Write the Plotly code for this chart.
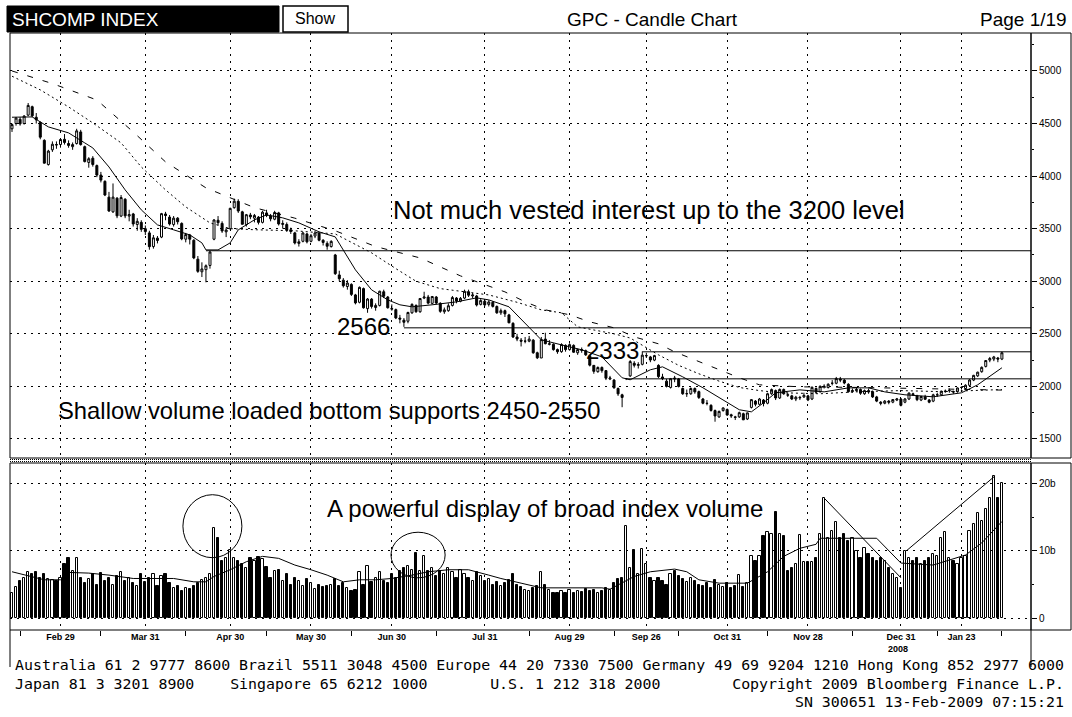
import plotly.graph_objects as go

# ---------------- data ----------------
# trading-day index 0 = 13-Feb-2008 ... 245 = 13-Feb-2009
date_tick_idx = [12, 33, 54, 74, 94, 117, 138, 157, 177, 197, 220, 235]
date_labels = ["Feb 29", "Mar 31", "Apr 30", "May 30", "Jun 30", "Jul 31",
               "Aug 29", "Sep 26", "Oct 31", "Nov 28", "Dec 31", "Jan 23"]
minor_tick_idx = [2, 22, 43, 63, 84, 105, 128, 149, 165, 187, 208, 229, 245]

opens = [
    4450, 4500, 4540, 4500, 4580, 4660, 4560, 4510, 4340, 4110, 4250, 4300, 4300,
    4350, 4310, 4280, 4310, 4420, 4280, 4130, 4170, 4100, 4010, 3950, 3800, 3660, 3790, 3620, 3780, 3620, 3640, 3540, 3560, 3500,
    3460, 3330, 3410, 3420, 3640, 3610, 3540, 3600, 3550, 3400, 3440, 3390, 3210, 3090, 3110, 3150, 3400, 3580, 3550, 3470, 3500,
    3700, 3760, 3660, 3540, 3630, 3600, 3610, 3560, 3650, 3620, 3590, 3650, 3540, 3540, 3490, 3460, 3360, 3380, 3450, 3380,
    3430, 3460, 3390, 3360, 3330, 3250, 3060, 3010, 2950, 2970, 2870, 2800, 2930, 2740, 2830, 2750, 2770, 2900, 2850, 2740,
    2730, 2650, 2630, 2620, 2700, 2770, 2710, 2840, 2850, 2790, 2850, 2790, 2710, 2720, 2770, 2840, 2810, 2840, 2900, 2860, 2860, 2780, 2810,
    2780, 2800, 2760, 2700, 2720, 2680, 2600, 2470, 2440, 2430, 2430, 2440, 2320, 2270, 2450, 2400, 2400, 2350, 2330, 2390, 2350,
    2390, 2320, 2350, 2340, 2290, 2200, 2140, 2180, 2150, 2070, 2060, 1980, 1920, 2075, 2100, 2220, 2200, 2210, 2290, 2280, 2250,
    2200, 2090, 2050, 1990, 2080, 2070, 1980, 1930, 1930, 1980, 1950, 1880, 1840, 1820, 1770, 1710, 1770, 1780,
    1730, 1710, 1710, 1740, 1690, 1800, 1860, 1830, 1870, 1840, 1930, 1960, 1890, 1970, 1920, 1910, 1880, 1890, 1900, 1910,
    1880, 1980, 1950, 2000, 1990, 2030, 2030, 2070, 2060, 2020, 1950, 1960, 1970, 1930, 1960, 1950, 1900, 1850, 1840, 1860, 1850, 1870, 1880,
    1850, 1880, 1930, 1910, 1870, 1900, 1870, 1860, 1920, 1920, 1950, 1960, 1950, 1950, 1990,
    1980, 2010, 2060, 2100, 2140, 2190, 2250, 2260, 2270, 2260,
]
highs = [
    4500, 4560, 4560, 4580, 4695, 4670, 4600, 4520, 4350, 4250, 4330, 4330, 4360,
    4400, 4340, 4320, 4450, 4440, 4290, 4180, 4190, 4110, 4040, 3960, 3850, 3930, 3800, 3820, 3790, 3680, 3650, 3600, 3580, 3530,
    3480, 3440, 3430, 3650, 3660, 3630, 3620, 3610, 3560, 3460, 3450, 3400, 3240, 3180, 3160, 3290, 3590, 3620, 3570, 3510, 3700,
    3786, 3780, 3670, 3640, 3650, 3640, 3620, 3670, 3680, 3640, 3670, 3660, 3580, 3560, 3510, 3470, 3400, 3470, 3460, 3450,
    3480, 3470, 3400, 3380, 3390, 3260, 3100, 3030, 3010, 2980, 2880, 2950, 2940, 2840, 2840, 2790, 2910, 2920, 2860, 2780,
    2740, 2680, 2650, 2710, 2790, 2780, 2840, 2900, 2870, 2860, 2860, 2800, 2750, 2790, 2860, 2850, 2850, 2920, 2920, 2890, 2870, 2830, 2830,
    2820, 2810, 2770, 2740, 2730, 2690, 2610, 2500, 2460, 2470, 2480, 2450, 2330, 2470, 2510, 2440, 2410, 2360, 2410, 2400, 2410,
    2400, 2360, 2370, 2350, 2300, 2200, 2190, 2190, 2150, 2100, 2070, 1990, 1930, 2080, 2250, 2240, 2230, 2333, 2320, 2290, 2300,
    2210, 2120, 2070, 2080, 2100, 2080, 1990, 1970, 1990, 1990, 1960, 1890, 1870, 1830, 1780, 1770, 1800, 1790,
    1740, 1720, 1760, 1750, 1750, 1880, 1870, 1890, 1880, 1940, 1980, 1970, 1980, 1980, 1940, 1920, 1910, 1910, 1940, 1920,
    2000, 1990, 2010, 2020, 2030, 2060, 2090, 2090, 2070, 2030, 1980, 1990, 1980, 1970, 1980, 1960, 1910, 1860, 1870, 1870, 1880, 1890, 1890,
    1890, 1940, 1940, 1920, 1910, 1920, 1880, 1930, 1940, 1960, 1970, 1980, 1960, 1990, 2000,
    2020, 2070, 2110, 2140, 2190, 2250, 2280, 2290, 2280, 2330,
]
lows = [
    4420, 4480, 4480, 4490, 4570, 4560, 4500, 4350, 4120, 4100, 4230, 4260, 4270,
    4300, 4270, 4250, 4300, 4290, 4130, 4080, 4090, 3990, 3940, 3810, 3660, 3650, 3600, 3610, 3600, 3570, 3520, 3480, 3470, 3440,
    3300, 3310, 3360, 3410, 3580, 3530, 3520, 3540, 3390, 3370, 3350, 3210, 3080, 3040, 2990, 3120, 3390, 3530, 3460, 3420, 3490,
    3690, 3650, 3540, 3520, 3590, 3560, 3540, 3550, 3610, 3570, 3580, 3530, 3500, 3470, 3450, 3350, 3330, 3370, 3360, 3370,
    3410, 3380, 3340, 3300, 3320, 3060, 3000, 2940, 2920, 2860, 2780, 2790, 2740, 2700, 2740, 2720, 2760, 2840, 2740, 2720,
    2640, 2600, 2566, 2600, 2690, 2700, 2700, 2830, 2780, 2780, 2780, 2700, 2690, 2710, 2760, 2790, 2800, 2830, 2850, 2840, 2760, 2770, 2760,
    2760, 2750, 2690, 2680, 2660, 2600, 2460, 2430, 2380, 2410, 2420, 2310, 2260, 2270, 2400, 2390, 2340, 2310, 2320, 2330, 2340,
    2320, 2300, 2320, 2290, 2190, 2120, 2130, 2130, 2060, 2060, 1980, 1910, 1802, 2060, 2090, 2180, 2170, 2200, 2270, 2230, 2240,
    2080, 2060, 1990, 1980, 2040, 1990, 1920, 1900, 1920, 1930, 1880, 1830, 1820, 1760, 1664, 1700, 1760, 1720,
    1700, 1680, 1700, 1680, 1680, 1790, 1810, 1820, 1810, 1830, 1920, 1870, 1880, 1920, 1900, 1870, 1860, 1870, 1890, 1860,
    1870, 1930, 1940, 1980, 1980, 2010, 2020, 2040, 2020, 1940, 1940, 1950, 1920, 1920, 1930, 1890, 1850, 1820, 1830, 1830, 1840, 1860, 1810,
    1840, 1870, 1910, 1860, 1860, 1870, 1840, 1850, 1900, 1910, 1940, 1940, 1930, 1940, 1970,
    1970, 2000, 2050, 2090, 2130, 2180, 2230, 2240, 2230, 2250,
]
closes = [
    4490, 4552, 4497, 4571, 4672, 4573, 4535, 4370, 4123, 4238, 4303, 4297, 4348,
    4320, 4292, 4300, 4430, 4300, 4138, 4165, 4110, 4010, 3962, 3820, 3668, 3800, 3622, 3796, 3622, 3634, 3545, 3570, 3494, 3472,
    3329, 3413, 3388, 3643, 3625, 3545, 3600, 3566, 3403, 3444, 3400, 3222, 3094, 3117, 3147, 3278, 3583, 3557, 3478, 3487, 3693,
    3761, 3668, 3542, 3633, 3613, 3626, 3560, 3657, 3626, 3594, 3654, 3545, 3550, 3485, 3473, 3364, 3375, 3459, 3375, 3433,
    3459, 3390, 3369, 3333, 3379, 3072, 3024, 2957, 2983, 2875, 2794, 2942, 2748, 2831, 2760, 2770, 2905, 2858, 2748, 2736,
    2651, 2640, 2610, 2703, 2780, 2710, 2836, 2850, 2792, 2855, 2793, 2714, 2728, 2767, 2845, 2813, 2837, 2904, 2867, 2869, 2774, 2816, 2775,
    2803, 2761, 2700, 2720, 2690, 2605, 2470, 2450, 2430, 2430, 2450, 2320, 2272, 2445, 2406, 2405, 2350, 2330, 2398, 2350, 2397,
    2325, 2350, 2343, 2300, 2202, 2143, 2180, 2150, 2078, 2080, 1986, 1929, 1895, 2075, 2236, 2201, 2207, 2297, 2293, 2251, 2293,
    2093, 2074, 2000, 2073, 2072, 2000, 1930, 1931, 1980, 1948, 1895, 1840, 1838, 1771, 1719, 1762, 1795, 1728,
    1720, 1706, 1750, 1682, 1748, 1874, 1830, 1880, 1838, 1930, 1970, 1890, 1971, 1930, 1917, 1880, 1897, 1895, 1915, 1871,
    1991, 1945, 2000, 2000, 2020, 2030, 2074, 2060, 2032, 1950, 1960, 1970, 1935, 1960, 1947, 1900, 1860, 1840, 1860, 1850, 1875, 1880, 1820,
    1880, 1937, 1920, 1874, 1904, 1878, 1850, 1920, 1920, 1954, 1955, 1960, 1947, 1985, 1990,
    2011, 2061, 2105, 2135, 2181, 2246, 2265, 2280, 2260, 2320,
]
volume_b = [
    3.8, 4.6, 5.5, 6.0, 6.8, 6.5, 6.9, 6.0, 6.5, 5.8, 5.6, 5.5, 5.9,
    8.0, 8.9, 7.0, 8.9, 6.0, 5.2, 5.8, 6.5, 5.0, 6.7, 5.5, 6.0, 5.0, 6.3, 6.8, 5.5, 6.0, 5.2, 4.8, 6.5, 5.3,
    6.0, 6.5, 4.8, 6.3, 6.5, 5.2, 4.5, 4.8, 4.0, 4.5, 4.3, 4.8, 5.2, 5.6, 6.0, 6.5, 13.4, 11.9, 8.5, 9.0, 10.1,
    9.0, 8.5, 8.0, 7.5, 9.0, 8.5, 9.1, 8.8, 7.6, 6.0, 7.0, 7.2, 5.5, 6.5, 5.0, 6.0, 5.5, 4.8, 5.8, 5.2,
    4.4, 5.0, 4.6, 4.8, 5.0, 5.8, 4.8, 5.2, 4.5, 4.0, 4.2, 6.9, 5.0, 7.8, 5.4, 6.0, 6.9, 5.5, 5.2, 6.5,
    6.0, 7.0, 7.5, 7.8, 7.2, 9.7, 7.0, 9.3, 7.0, 7.5, 6.2, 7.0, 6.5, 7.5, 6.8, 6.0, 7.2, 6.5, 6.0, 5.5, 6.9, 6.2, 5.5,
    5.8, 5.0, 5.4, 4.8, 5.2, 5.6, 6.5, 5.0, 4.6, 4.2, 4.0, 4.5, 4.8, 6.9, 5.0, 4.2, 3.8, 3.7, 4.0, 3.8, 4.2,
    3.7, 4.0, 3.9, 4.3, 4.0, 4.2, 3.8, 4.0, 4.5, 4.2, 5.2, 5.8, 6.0, 13.7, 7.5, 10.1, 6.5, 10.3, 8.0, 6.0, 5.5,
    6.0, 5.5, 5.0, 6.5, 7.0, 6.2, 5.8, 5.4, 6.0, 5.5, 5.0, 4.8, 5.2, 4.5, 5.6, 5.0, 4.6, 5.2,
    4.5, 4.8, 6.4, 4.6, 5.2, 9.3, 8.5, 9.3, 12.2, 12.8, 12.5, 15.8, 12.5, 12.2, 7.0, 7.5, 8.0, 12.4, 8.3, 8.3,
    8.3, 9.0, 12.5, 17.9, 12.0, 13.0, 14.3, 12.0, 12.5, 11.5, 12.0, 10.0, 9.0, 10.5, 9.5, 9.0, 8.5, 9.0, 8.5, 7.5, 6.5, 6.0, 4.5,
    10.0, 9.0, 8.5, 9.0, 8.0, 8.5, 9.0, 9.5, 9.3, 12.0, 12.8, 9.0, 8.5, 8.0, 9.0,
    9.3, 13.0, 14.0, 15.6, 14.5, 16.2, 17.9, 21.2, 17.9, 20.1,
]

# moving averages read at sparse points (index, value)
ma_short_idx = [0, 5, 9, 14, 18, 20, 24, 28, 32, 36, 40, 44, 47, 48, 51, 54, 56, 60, 63, 67, 71, 76, 80, 83, 85, 89,
                93, 96, 99, 104, 110, 115, 118, 123, 128, 131, 136, 141, 146, 151, 153, 158, 161, 166, 171, 176,
                180, 183, 186, 189, 195, 201, 207, 212, 216, 221, 228, 235, 239, 245]
ma_short_val = [4560, 4563, 4468, 4411, 4316, 4268, 4087, 3869, 3679, 3536, 3489, 3441, 3365, 3298, 3298, 3365, 3489,
                3584, 3631, 3603, 3555, 3470, 3422, 3232, 3108, 2918, 2823, 2776, 2757, 2776, 2804, 2842, 2823, 2757,
                2566, 2443, 2395, 2348, 2281, 2082, 2063, 2158, 2186, 2091, 1987, 1873, 1778, 1758, 1844, 1939, 1967,
                1948, 1986, 1986, 1948, 1920, 1901, 1939, 2015, 2177]
ma_mid_idx = [0, 7, 14, 20, 27, 32, 38, 43, 49, 54, 60, 70, 80, 85, 89, 95, 100, 106, 112, 118, 125, 131, 136,
              140, 149, 153, 160, 165, 170, 175, 180, 185, 190, 200, 210, 220, 230, 240, 245]
ma_mid_val = [4950, 4820, 4658, 4506, 4316, 4087, 3869, 3707, 3555, 3500, 3490, 3480, 3450, 3350, 3270, 3120,
              3000, 2930, 2900, 2870, 2800, 2728, 2700, 2566, 2500, 2460, 2300, 2200, 2120, 2050, 1990, 1960,
              1940, 1930, 1950, 1960, 1950, 1960, 1970]
ma_long_idx = [0, 10, 21, 30, 38, 48, 60, 70, 80, 90, 101, 106, 111, 122, 127, 132, 138, 143, 149, 154, 160,
               164, 170, 175, 180, 185, 195, 210, 225, 240, 245]
ma_long_val = [5000, 4880, 4724, 4420, 4135, 3888, 3700, 3600, 3480, 3330, 3222, 3137, 3051, 2899, 2804, 2728,
               2681, 2614, 2557, 2471, 2405, 2329, 2234, 2158, 2082, 2015, 1996, 1990, 1980, 1968, 1965]
vol_ma_idx = [0, 8, 12, 14, 19, 24, 30, 40, 45, 48, 50, 54, 58, 62, 66, 70, 74, 78, 82, 86, 90, 94, 99, 103,
              108, 113, 118, 121, 126, 131, 146, 148, 154, 158, 164, 167, 170, 175, 182, 187, 191, 195, 199,
              200, 214, 220, 228, 232, 236, 240, 245]
vol_ma_val = [6.9, 5.7, 5.7, 6.8, 6.7, 6.4, 5.9, 5.9, 5.4, 5.4, 6.2, 7.2, 8.4, 9.2, 8.9, 7.9, 7.2, 6.4, 5.4, 5.7,
              5.7, 5.9, 6.4, 6.9, 7.2, 7.2, 6.4, 5.9, 5.2, 4.5, 4.5, 4.3, 6.2, 6.9, 7.3, 6.9, 5.7, 5.2, 5.2, 6.9,
              9.2, 10.4, 11.0, 11.9, 11.9, 8.2, 7.9, 8.7, 9.4, 11.2, 14.4]

# analyst drawings (levels and trend lines)
level_start_idx = [48, 97, 156, 152]
level_values = [3290, 2557, 2329, 2072]
vol_trend_a = ([201, 220], [17.9, 6.0])
vol_trend_b = ([221.5, 243.3], [10.1, 21.2])
vol_circles = [(42.3, 56.9, 9.0, 18.4), (93.8, 107.2, 6.0, 12.8)]

price_ticks = [1500, 2000, 2500, 3000, 3500, 4000, 4500, 5000]
vol_ticks = [0, 10, 20]
vol_tick_text = ["0", "10b", "20b"]

# ---------------- layout geometry ----------------
W, H = 1072, 717
L, R, T, B = 10, 1031, 33, 630
PW, PH = R - L, B - T


def px(x):
    return (x - L) / PW


def py(y):
    return (B - y) / PH


top_dom = [py(458), 1.0]
bot_dom = [0.0, py(463)]

n = len(closes)
idx = list(range(n))

fig = go.Figure()

fig.add_trace(go.Candlestick(
    x=idx, open=opens, high=highs, low=lows, close=closes,
    xaxis="x2", yaxis="y",
    increasing=dict(line=dict(color="black", width=1), fillcolor="white"),
    decreasing=dict(line=dict(color="black", width=1), fillcolor="black"),
    whiskerwidth=0, showlegend=False, hoverinfo="skip",
))
fig.add_trace(go.Scatter(x=ma_short_idx, y=ma_short_val, xaxis="x2", yaxis="y", mode="lines",
                         line=dict(color="black", width=1), showlegend=False, hoverinfo="skip"))
fig.add_trace(go.Scatter(x=ma_mid_idx, y=ma_mid_val, xaxis="x2", yaxis="y", mode="lines",
                         line=dict(color="black", width=1, dash="2px,3px"), showlegend=False, hoverinfo="skip"))
fig.add_trace(go.Scatter(x=ma_long_idx, y=ma_long_val, xaxis="x2", yaxis="y", mode="lines",
                         line=dict(color="black", width=1, dash="6px,10px"), showlegend=False, hoverinfo="skip"))

vol_colors = ["white" if c >= o else "black" for o, c in zip(opens, closes)]
fig.add_trace(go.Bar(x=idx, y=volume_b, xaxis="x", yaxis="y2", width=0.55,
                     marker=dict(color=vol_colors, line=dict(color="black", width=1)),
                     showlegend=False, hoverinfo="skip"))
fig.add_trace(go.Scatter(x=vol_ma_idx, y=vol_ma_val, xaxis="x", yaxis="y2", mode="lines",
                         line=dict(color="black", width=1), showlegend=False, hoverinfo="skip"))
for tx, ty in (vol_trend_a, vol_trend_b):
    fig.add_trace(go.Scatter(x=tx, y=ty, xaxis="x", yaxis="y2", mode="lines",
                             line=dict(color="black", width=1), showlegend=False, hoverinfo="skip"))

shapes = []
for s, v in zip(level_start_idx, level_values):
    shapes.append(dict(type="line", xref="x2", yref="y", x0=s, x1=252.2, y0=v, y1=v,
                       line=dict(color="black", width=1)))
for x0, x1, y0, y1 in vol_circles:
    shapes.append(dict(type="circle", xref="x", yref="y2", x0=x0, x1=x1, y0=y0, y1=y1,
                       line=dict(color="black", width=1)))

# frames
frame = dict(color="black", width=1)
shapes += [
    dict(type="rect", xref="paper", yref="paper", x0=0, x1=1, y0=top_dom[0], y1=1, line=frame),
    dict(type="rect", xref="paper", yref="paper", x0=0, x1=1, y0=0, y1=bot_dom[1], line=frame),
    dict(type="rect", xref="paper", yref="paper", x0=1, x1=px(1071), y0=top_dom[0], y1=1, line=frame),
    dict(type="rect", xref="paper", yref="paper", x0=1, x1=px(1071), y0=0, y1=bot_dom[1], line=frame),
    dict(type="line", xref="paper", yref="paper", x0=0, x1=0, y0=0, y1=py(667), line=frame),
    dict(type="line", xref="paper", yref="paper", x0=1, x1=1, y0=0, y1=py(667), line=frame),
    dict(type="line", xref="paper", yref="paper", x0=0, x1=1, y0=py(459.5), y1=py(459.5),
         line=dict(color="black", width=1, dash="1px,1px")),
    dict(type="line", xref="paper", yref="paper", x0=0, x1=1, y0=py(461.5), y1=py(461.5),
         line=dict(color="black", width=1, dash="1px,1px")),
    # header
    dict(type="rect", xref="paper", yref="paper", x0=px(7), x1=px(279), y0=py(32), y1=py(6),
         fillcolor="black", line=dict(color="black", width=1)),
    dict(type="rect", xref="paper", yref="paper", x0=px(283), x1=px(348), y0=py(32), y1=py(6),
         fillcolor="white", line=dict(color="black", width=1.5)),
]

note_font = dict(family="Liberation Sans, Arial, sans-serif", size=24, color="black")
hdr_font = dict(family="Liberation Sans, Arial, sans-serif", size=19, color="black")
mono = dict(family="DejaVu Sans Mono, monospace", size=14.9, color="black")
NB = "\u00a0"


def mono_line(s):
    return s.replace(" ", NB)


line1 = "Australia 61 2 9777 8600 Brazil 5511 3048 4500 Europe 44 20 7330 7500 Germany 49 69 9204 1210 Hong Kong 852 2977 6000"
line2 = ("Japan 81 3 3201 8900" + " " * 4 + "Singapore 65 6212 1000" + " " * 7 + "U.S. 1 212 318 2000"
         + " " * 8 + "Copyright 2009 Bloomberg Finance L.P.")
line3 = " " * 87 + "SN 300651 13-Feb-2009 07:15:21"

annotations = [
    dict(text="SHCOMP INDEX", x=px(10), y=py(19), xanchor="left", yanchor="middle",
         font=dict(family="Liberation Sans, Arial, sans-serif", size=19, color="white")),
    dict(text="Show", x=px(315), y=py(18), xanchor="center", yanchor="middle",
         font=dict(family="Liberation Sans, Arial, sans-serif", size=16, color="black")),
    dict(text="GPC - Candle Chart", x=px(652), y=py(19), xanchor="center", yanchor="middle", font=hdr_font),
    dict(text="Page 1/19", x=px(1069), y=py(19), xanchor="right", yanchor="middle", font=hdr_font),
    dict(text="Not much vested interest up to the 3200 level", x=px(391), y=py(210),
         xanchor="left", yanchor="middle", font=dict(note_font, size=25.5)),
    dict(text="2566", x=px(363), y=py(326), xanchor="center", yanchor="middle", font=note_font),
    dict(text="2333", x=px(612), y=py(350), xanchor="center", yanchor="middle", font=note_font),
    dict(text="Shallow volume loaded bottom supports 2450-2550", x=px(56), y=py(410),
         xanchor="left", yanchor="middle", font=dict(note_font, size=23.8)),
    dict(text="A powerful display of broad index volume", x=px(325), y=py(508),
         xanchor="left", yanchor="middle", font=note_font),
    dict(text="2008", x=px(898), y=py(649), xanchor="center", yanchor="middle",
         font=dict(family="Liberation Sans, Arial, sans-serif", size=9, color="black", weight="bold")),
    dict(text=mono_line(line1), x=px(13), y=py(665), xanchor="left", yanchor="middle", font=mono),
    dict(text=mono_line(line2), x=px(13), y=py(683.5), xanchor="left", yanchor="middle", font=mono),
    dict(text=mono_line(line3), x=px(13), y=py(702), xanchor="left", yanchor="middle", font=mono),
]
for a in annotations:
    a.update(xref="paper", yref="paper", showarrow=False)

grid = dict(showgrid=True, gridcolor="black", gridwidth=1, griddash="2px,5px")
tick_font = dict(family="Liberation Sans, Arial, sans-serif", size=9, color="black")
xr = [-0.495, 252.2]

fig.update_layout(
    width=W, height=H, paper_bgcolor="white", plot_bgcolor="white",
    margin=dict(l=L, r=W - R, t=T, b=H - B),
    showlegend=False, bargap=0,
    xaxis=dict(domain=[0, 1], anchor="y2", range=xr, tickmode="array", tickvals=date_tick_idx,
               ticktext=date_labels, ticks="", tickfont=dict(tick_font, weight="bold"),
               zeroline=False, showline=False,
               minor=dict(tickmode="array", tickvals=minor_tick_idx, ticks="outside", ticklen=5,
                          tickcolor="black", showgrid=False),
               **grid),
    xaxis2=dict(domain=[0, 1], anchor="y", matches="x", range=xr, tickmode="array",
                tickvals=date_tick_idx, showticklabels=False, ticks="", zeroline=False,
                showline=False, rangeslider=dict(visible=False), **grid),
    yaxis=dict(domain=top_dom, anchor="x2", side="right", range=[1319, 5361], tickmode="array",
               tickvals=price_ticks, ticks="outside", ticklen=5, tickcolor="black",
               tickfont=dict(tick_font, size=10), zeroline=False, showline=False,
               minor=dict(dtick=250, ticks="outside", ticklen=2, tickcolor="black", showgrid=False),
               **grid),
    yaxis2=dict(domain=bot_dom, anchor="x", side="right", range=[-1.79, 23.13], tickmode="array",
                tickvals=vol_ticks, ticktext=vol_tick_text, ticks="outside", ticklen=5,
                tickcolor="black", tickfont=dict(tick_font, size=10), zeroline=False, showline=False,
                minor=dict(dtick=5, ticks="outside", ticklen=2, tickcolor="black", showgrid=False),
                **grid),
    shapes=shapes, annotations=annotations,
)

fig.write_html("out.html", config={"displayModeBar": False},
               post_script="document.body.style.margin='0';document.body.style.overflow='hidden';")
